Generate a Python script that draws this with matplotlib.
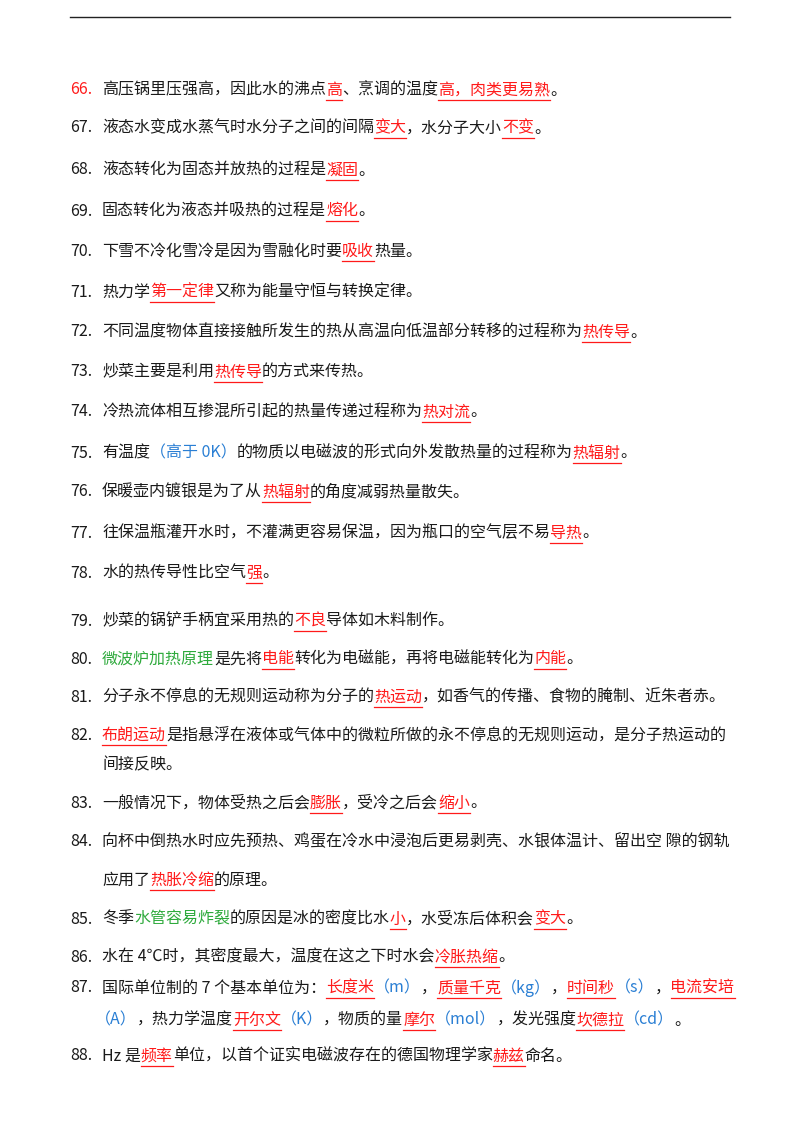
import matplotlib
matplotlib.use("Agg")
import matplotlib.pyplot as plt
from matplotlib.lines import Line2D

plt.rcParams['font.family'] = ['Noto Sans CJK SC', 'DejaVu Sans']

K, R, G, B = 'k', 'r', 'g', 'b'
colors = {K: '#1a1a1a', R: '#ff1a1a', G: '#2eaa3c', B: '#2a7fd4'}

numbers = ['66.', '67.', '68.', '69.', '70.', '71.', '72.', '73.', '74.', '75.', '76.', '77.', '78.',
           '79.', '80.', '81.', '82.', '', '83.', '84.', '', '85.', '86.', '87.', '', '88.']
number_colors = [R] + [K] * 25
rows_y = [90, 128, 170, 211, 251, 292, 332, 372, 412, 453, 492, 533, 573,
          621, 659, 697, 735, 765, 803, 842, 880, 919, 957, 988, 1020, 1056]
lines = [
    [('高压锅里压强高，因此水的沸点', K), ('高', R), ('、烹调的温度', K), ('高，肉类更易熟', R), ('。', K)],
    [('液态水变成水蒸气时水分子之间的间隔', K), ('变大', R), ('，水分子大小', K), ('不变', R), ('。', K)],
    [('液态转化为固态并放热的过程是', K), ('凝固', R), ('。', K)],
    [('固态转化为液态并吸热的过程是', K), ('熔化', R), ('。', K)],
    [('下雪不冷化雪冷是因为雪融化时要', K), ('吸收', R), ('热量。', K)],
    [('热力学', K), ('第一定律', R), ('又称为能量守恒与转换定律。', K)],
    [('不同温度物体直接接触所发生的热从高温向低温部分转移的过程称为', K), ('热传导', R), ('。', K)],
    [('炒菜主要是利用', K), ('热传导', R), ('的方式来传热。', K)],
    [('冷热流体相互掺混所引起的热量传递过程称为', K), ('热对流', R), ('。', K)],
    [('有温度', K), ('（高于 0K）', B), ('的物质以电磁波的形式向外发散热量的过程称为', K), ('热辐射', R), ('。', K)],
    [('保暖壶内镀银是为了从', K), ('热辐射', R), ('的角度减弱热量散失。', K)],
    [('往保温瓶灌开水时，不灌满更容易保温，因为瓶口的空气层不易', K), ('导热', R), ('。', K)],
    [('水的热传导性比空气', K), ('强', R), ('。', K)],
    [('炒菜的锅铲手柄宜采用热的', K), ('不良', R), ('导体如木料制作。', K)],
    [('微波炉加热原理', G), ('是先将', K), ('电能', R), ('转化为电磁能，再将电磁能转化为', K), ('内能', R), ('。', K)],
    [('分子永不停息的无规则运动称为分子的', K), ('热运动', R), ('，如香气的传播、食物的腌制、近朱者赤。', K)],
    [('布朗运动', R), ('是指悬浮在液体或气体中的微粒所做的永不停息的无规则运动，是分子热运动的', K)],
    [('间接反映。', K)],
    [('一般情况下，物体受热之后会', K), ('膨胀', R), ('，受冷之后会', K), ('缩小', R), ('。', K)],
    [('向杯中倒热水时应先预热、鸡蛋在冷水中浸泡后更易剥壳、水银体温计、留出空 隙的钢轨', K)],
    [('应用了', K), ('热胀冷缩', R), ('的原理。', K)],
    [('冬季', K), ('水管容易炸裂', G), ('的原因是冰的密度比水', K), ('小', R), ('，水受冻后体积会', K), ('变大', R), ('。', K)],
    [('水在 4℃时，其密度最大，温度在这之下时水会', K), ('冷胀热缩', R), ('。', K)],
    [('国际单位制的 7 个基本单位为：', K), ('长度米', R), ('（m）', B), ('，', K), ('质量千克', R), ('（kg）', B),
     ('，', K), ('时间秒', R), ('（s）', B), ('，', K), ('电流安培', R)],
    [('（A）', B), ('，热力学温度', K), ('开尔文', R), ('（K）', B), ('，物质的量', K), ('摩尔', R), ('（mol）', B),
     ('，发光强度', K), ('坎德拉', R), ('（cd）', B), ('。', K)],
    [('Hz 是', K), ('频率', R), ('单位，以首个证实电磁波存在的德国物理学家', K), ('赫兹', R), ('命名。', K)],
]
indent = [102] * 26
indent[24] = 95
fs = 11.5

W, H = 800, 1132
fig = plt.figure(figsize=(8, 11.32), dpi=100)
fig.patch.set_facecolor('white')
renderer = fig.canvas.get_renderer()

def fy(py):
    return 1 - py / H

fig.add_artist(Line2D([70 / W, 730 / W], [fy(17)] * 2, color='#222222', lw=1))

for num, nc, y, x0, segs in zip(numbers, number_colors, rows_y, indent, lines):
    if num:
        fig.text(70 / W, fy(y), num, color=colors[nc], fontsize=fs, va='center')
    x = x0
    for txt, c in segs:
        t = fig.text(x / W, fy(y), txt, color=colors[c], fontsize=fs, va='center')
        bb = t.get_window_extent(renderer)
        if c == R:
            fig.add_artist(Line2D([x / W, (x + bb.width) / W], [fy(y + 10)] * 2, color=colors[R], lw=0.9))
        x += bb.width

fig.savefig('out.png', dpi=100, facecolor='white')
